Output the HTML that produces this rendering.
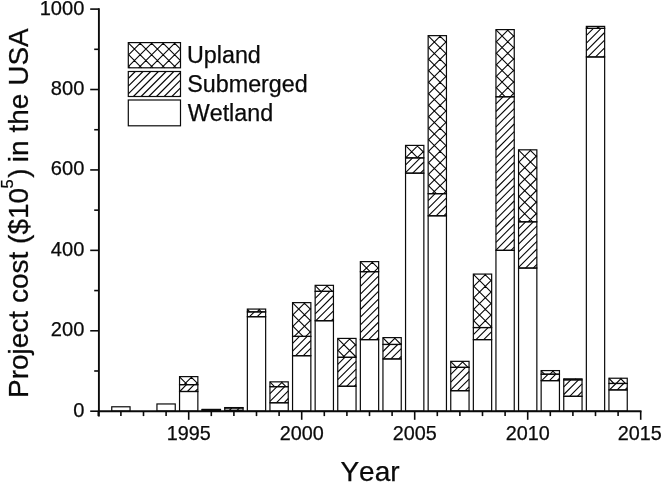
<!DOCTYPE html>
<html><head><meta charset="utf-8"><title>Project cost in the USA</title>
<style>
html,body{margin:0;padding:0;background:#fff;}
body{width:662px;height:482px;overflow:hidden;}
svg{display:block;}
text{font-family:"Liberation Sans",Arial,sans-serif;fill:#0a0a0a;font-kerning:none;stroke:#0a0a0a;stroke-width:0.25px;}
</style></head><body>
<svg width="662" height="482" viewBox="0 0 662 482">
<rect width="662" height="482" fill="#fff"/>

<path fill="none" stroke="#050505" stroke-width="1.08" d="M179.7,391.5L186.5,384.7M187.4,391.5L194.2,384.7M195.1,391.5L197.8,388.8M179.5,377.6L180.6,376.6M184.0,384.7L192.1,376.6M195.5,384.7L197.8,382.3M179.5,376.9L187.3,384.7M190.7,376.6L197.8,383.7M208.3,410.4L209.1,409.6M216.0,410.4L216.9,409.6M202.9,409.6L203.1,409.4M214.4,409.6L214.6,409.4M213.3,409.4L213.6,409.6M229.3,410.4L231.8,408.0M237.0,410.4L239.5,408.0M225.3,408.0L225.8,407.6M236.8,408.0L237.2,407.6M224.8,407.9L224.9,408.0M236.0,407.6L236.4,408.0M249.5,316.7L254.4,311.9M257.2,316.7L262.1,311.9M264.9,316.7L265.6,316.0M247.3,310.1L248.4,309.1M257.0,311.9L259.9,309.1M247.3,309.4L249.9,311.9M258.6,309.1L261.4,311.9M270.0,393.7L277.0,386.7M270.0,401.4L284.7,386.7M276.3,402.8L288.3,390.8M284.0,402.8L288.3,398.5M270.0,382.8L271.0,381.8M277.6,386.7L282.5,381.8M270.0,382.1L274.5,386.7M281.2,381.8L286.0,386.7M292.6,343.4L299.5,336.4M292.6,351.1L307.2,336.4M295.6,355.7L310.9,340.5M303.3,355.7L310.9,348.2M292.6,303.6L293.6,302.6M292.6,315.1L305.1,302.6M292.6,326.6L310.9,308.3M294.3,336.4L310.9,319.8M305.8,336.4L310.9,331.3M292.6,325.9L303.0,336.4M292.6,314.4L310.9,332.7M292.6,302.9L310.9,321.2M303.8,302.6L310.9,309.7M315.2,298.4L322.2,291.4M315.2,306.1L329.9,291.4M315.2,313.8L333.5,295.5M315.9,320.7L333.5,303.2M323.6,320.7L333.5,310.9M331.3,320.7L333.5,318.6M315.2,286.3L316.2,285.3M321.6,291.4L327.7,285.3M333.1,291.4L333.5,291.0M315.2,285.6L320.9,291.4M326.4,285.3L332.4,291.4M337.8,364.3L344.8,357.3M337.8,372.0L352.5,357.3M337.8,379.7L356.1,361.4M338.9,386.3L356.1,369.1M346.6,386.3L356.1,376.8M354.3,386.3L356.1,384.5M337.8,339.4L338.8,338.4M337.8,350.9L350.3,338.4M342.9,357.3L356.1,344.1M354.4,357.3L356.1,355.6M337.8,350.2L344.8,357.3M337.8,338.7L356.1,357.0M349.0,338.4L356.1,345.5M360.4,278.7L367.4,271.7M360.4,286.4L375.1,271.7M360.4,294.1L378.7,275.8M360.4,301.8L378.7,283.5M360.4,309.5L378.7,291.2M360.4,317.2L378.7,298.9M360.4,324.9L378.7,306.6M360.4,332.6L378.7,314.3M361.0,339.6L378.7,322.0M368.7,339.6L378.7,329.7M376.4,339.6L378.7,337.4M360.4,262.6L361.4,261.6M362.8,271.7L372.9,261.6M374.3,271.7L378.7,267.3M360.4,261.9L370.1,271.7M371.6,261.6L378.7,268.7M383.0,351.5L389.9,344.5M383.2,358.9L397.7,344.5M390.9,358.9L401.3,348.6M398.6,358.9L401.3,356.3M383.0,338.6L384.0,337.6M388.6,344.5L395.5,337.6M400.1,344.5L401.3,343.3M383.0,337.9L389.5,344.5M394.2,337.6L401.0,344.5M405.6,164.9L412.6,157.9M405.6,172.6L420.3,157.9M412.7,173.2L423.9,162.0M420.4,173.2L423.9,169.7M405.6,146.4L406.6,145.4M405.6,157.9L418.1,145.4M417.1,157.9L423.9,151.1M405.6,157.2L406.2,157.9M405.6,145.7L417.7,157.9M416.8,145.4L423.9,152.5M428.2,200.7L435.1,193.7M428.2,208.4L442.9,193.7M428.4,215.8L446.5,197.8M436.1,215.8L446.5,205.5M443.8,215.8L446.5,213.2M428.2,36.6L429.2,35.6M428.2,48.1L440.7,35.6M428.2,59.6L446.5,41.3M428.2,71.1L446.5,52.8M428.2,82.6L446.5,64.3M428.2,94.1L446.5,75.8M428.2,105.6L446.5,87.3M428.2,117.1L446.5,98.8M428.2,128.6L446.5,110.3M428.2,140.1L446.5,121.8M428.2,151.6L446.5,133.3M428.2,163.1L446.5,144.8M428.2,174.6L446.5,156.3M428.2,186.1L446.5,167.8M432.1,193.7L446.5,179.3M443.6,193.7L446.5,190.8M428.2,185.4L436.4,193.7M428.2,173.9L446.5,192.2M428.2,162.4L446.5,180.7M428.2,150.9L446.5,169.2M428.2,139.4L446.5,157.7M428.2,127.9L446.5,146.2M428.2,116.4L446.5,134.7M428.2,104.9L446.5,123.2M428.2,93.4L446.5,111.7M428.2,81.9L446.5,100.2M428.2,70.4L446.5,88.7M428.2,58.9L446.5,77.2M428.2,47.4L446.5,65.7M428.2,35.9L446.5,54.2M439.4,35.6L446.5,42.7M450.8,374.4L457.8,367.4M450.8,382.1L465.5,367.4M450.8,389.8L469.1,371.5M457.5,390.7L469.1,379.2M465.2,390.7L469.1,386.9M450.8,362.3L451.8,361.3M457.2,367.4L463.2,361.3M468.7,367.4L469.1,367.0M450.8,361.6L456.5,367.4M462.0,361.3L468.0,367.4M473.4,334.6L480.4,327.6M476.0,339.6L488.1,327.6M483.7,339.6L491.7,331.7M491.4,339.6L491.7,339.4M473.4,275.1L474.4,274.1M473.4,286.6L485.9,274.1M473.4,298.1L491.7,279.8M473.4,309.6L491.7,291.3M473.4,321.1L491.7,302.8M478.4,327.6L491.7,314.3M489.9,327.6L491.7,325.8M473.4,320.4L480.5,327.6M473.4,308.9L491.7,327.2M473.4,297.4L491.7,315.7M473.4,285.9L491.7,304.2M473.4,274.4L491.7,292.7M484.6,274.1L491.7,281.2M496.0,103.8L503.0,96.8M496.0,111.5L510.7,96.8M496.0,119.2L514.2,100.9M496.0,126.9L514.2,108.6M496.0,134.6L514.2,116.3M496.0,142.3L514.2,124.0M496.0,150.0L514.2,131.7M496.0,157.7L514.2,139.4M496.0,165.4L514.2,147.1M496.0,173.1L514.2,154.8M496.0,180.8L514.2,162.5M496.0,188.5L514.2,170.2M496.0,196.2L514.2,177.9M496.0,203.9L514.2,185.6M496.0,211.6L514.2,193.3M496.0,219.3L514.2,201.0M496.0,227.0L514.2,208.7M496.0,234.7L514.2,216.4M496.0,242.4L514.2,224.1M496.0,250.1L514.2,231.8M503.3,250.4L514.2,239.5M511.0,250.4L514.2,247.2M496.0,30.6L496.9,29.6M496.0,42.1L508.4,29.6M496.0,53.6L514.2,35.3M496.0,65.1L514.2,46.8M496.0,76.6L514.2,58.3M496.0,88.1L514.2,69.8M498.8,96.8L514.2,81.3M510.3,96.8L514.2,92.8M496.0,87.4L505.3,96.8M496.0,75.9L514.2,94.2M496.0,64.4L514.2,82.7M496.0,52.9L514.2,71.2M496.0,41.4L514.2,59.7M496.0,29.9L514.2,48.2M507.2,29.6L514.2,36.7M518.6,228.8L525.6,221.8M518.6,236.5L533.3,221.8M518.6,244.2L536.9,225.9M518.6,251.9L536.9,233.6M518.6,259.6L536.9,241.3M518.6,267.3L536.9,249.0M525.5,268.1L536.9,256.7M533.2,268.1L536.9,264.4M518.6,150.8L519.5,149.8M518.6,162.3L531.0,149.8M518.6,173.8L536.9,155.5M518.6,185.3L536.9,167.0M518.6,196.8L536.9,178.5M518.6,208.3L536.9,190.0M518.6,219.8L536.9,201.5M528.1,221.8L536.9,213.0M518.6,219.1L521.2,221.8M518.6,207.6L532.7,221.8M518.6,196.1L536.9,214.4M518.6,184.6L536.9,202.9M518.6,173.1L536.9,191.4M518.6,161.6L536.9,179.9M518.6,150.1L536.9,168.4M529.8,149.8L536.9,156.9M541.7,380.6L548.2,374.2M549.4,380.6L555.9,374.2M557.1,380.6L559.4,378.3M541.1,371.6L542.1,370.6M550.0,374.2L553.6,370.6M541.1,370.9L544.5,374.2M552.3,370.6L556.0,374.2M563.8,386.8L570.8,379.8M563.8,394.5L578.5,379.8M569.7,396.3L582.0,383.9M577.4,396.3L582.0,391.6M563.8,379.8L564.8,378.8M575.2,379.8L576.2,378.8M563.8,379.1L564.5,379.8M575.0,378.8L576.0,379.8M586.4,35.4L593.4,28.4M586.4,43.1L601.1,28.4M586.4,50.8L604.6,32.5M587.9,56.9L604.6,40.2M595.6,56.9L604.6,47.9M603.3,56.9L604.6,55.6M586.4,27.4L587.3,26.4M596.8,28.4L598.8,26.4M586.4,26.7L588.1,28.4M597.6,26.4L599.6,28.4M609.5,389.9L616.0,383.5M617.2,389.9L623.7,383.5M624.9,389.9L627.2,387.6M609.0,379.2L610.0,378.2M616.2,383.5L621.5,378.2M609.0,378.5L613.9,383.5M620.2,378.2L625.4,383.5M128.3,43.6L129.3,42.6M128.3,55.1L140.8,42.6M128.3,66.6L152.3,42.6M138.6,67.8L163.8,42.6M150.1,67.8L175.3,42.6M161.6,67.8L180.5,48.9M173.1,67.8L180.5,60.4M128.3,65.9L130.2,67.8M128.3,54.4L141.7,67.8M128.3,42.9L153.2,67.8M139.5,42.6L164.7,67.8M151.0,42.6L176.2,67.8M162.5,42.6L180.5,60.6M174.0,42.6L180.5,49.1M128.3,78.5L135.3,71.5M128.3,86.2L143.0,71.5M128.3,93.9L150.7,71.5M133.4,96.5L158.4,71.5M141.1,96.5L166.1,71.5M148.8,96.5L173.8,71.5M156.5,96.5L180.5,72.5M164.2,96.5L180.5,80.2M171.9,96.5L180.5,87.9M179.6,96.5L180.5,95.6"/>
<g stroke="#0a0a0a" stroke-width="1.2" fill="none">
<rect x="111.75" y="406.78" width="18.30" height="4.42"/>
<rect x="156.95" y="403.96" width="18.30" height="7.24"/>
<rect x="179.55" y="391.50" width="18.30" height="19.70"/>
<rect x="179.55" y="384.66" width="18.30" height="6.84"/>
<rect x="179.55" y="376.62" width="18.30" height="8.04"/>
<rect x="202.15" y="410.40" width="18.30" height="0.80"/>
<rect x="202.15" y="409.59" width="18.30" height="0.80"/>
<rect x="202.15" y="409.39" width="18.30" height="0.20"/>
<rect x="224.75" y="410.40" width="18.30" height="0.80"/>
<rect x="224.75" y="407.98" width="18.30" height="2.41"/>
<rect x="224.75" y="407.58" width="18.30" height="0.40"/>
<rect x="247.35" y="316.71" width="18.30" height="94.49"/>
<rect x="247.35" y="311.88" width="18.30" height="4.83"/>
<rect x="247.35" y="309.07" width="18.30" height="2.81"/>
<rect x="269.95" y="402.76" width="18.30" height="8.44"/>
<rect x="269.95" y="386.67" width="18.30" height="16.08"/>
<rect x="269.95" y="381.85" width="18.30" height="4.83"/>
<rect x="292.55" y="355.71" width="18.30" height="55.49"/>
<rect x="292.55" y="336.41" width="18.30" height="19.30"/>
<rect x="292.55" y="302.63" width="18.30" height="33.78"/>
<rect x="315.15" y="320.73" width="18.30" height="90.47"/>
<rect x="315.15" y="291.37" width="18.30" height="29.35"/>
<rect x="315.15" y="285.34" width="18.30" height="6.03"/>
<rect x="337.75" y="386.27" width="18.30" height="24.93"/>
<rect x="337.75" y="357.32" width="18.30" height="28.95"/>
<rect x="337.75" y="338.42" width="18.30" height="18.90"/>
<rect x="360.35" y="339.63" width="18.30" height="71.57"/>
<rect x="360.35" y="271.67" width="18.30" height="67.95"/>
<rect x="360.35" y="261.62" width="18.30" height="10.05"/>
<rect x="382.95" y="358.93" width="18.30" height="52.27"/>
<rect x="382.95" y="344.45" width="18.30" height="14.48"/>
<rect x="382.95" y="337.62" width="18.30" height="6.84"/>
<rect x="405.55" y="173.16" width="18.30" height="238.04"/>
<rect x="405.55" y="157.88" width="18.30" height="15.28"/>
<rect x="405.55" y="145.41" width="18.30" height="12.47"/>
<rect x="428.15" y="215.78" width="18.30" height="195.42"/>
<rect x="428.15" y="193.66" width="18.30" height="22.12"/>
<rect x="428.15" y="35.64" width="18.30" height="158.03"/>
<rect x="450.75" y="390.69" width="18.30" height="20.51"/>
<rect x="450.75" y="367.37" width="18.30" height="23.32"/>
<rect x="450.75" y="361.34" width="18.30" height="6.03"/>
<rect x="473.35" y="339.63" width="18.30" height="71.57"/>
<rect x="473.35" y="327.56" width="18.30" height="12.06"/>
<rect x="473.35" y="274.08" width="18.30" height="53.48"/>
<rect x="495.95" y="250.36" width="18.30" height="160.84"/>
<rect x="495.95" y="96.76" width="18.30" height="153.60"/>
<rect x="495.95" y="29.61" width="18.30" height="67.15"/>
<rect x="518.55" y="268.05" width="18.30" height="143.15"/>
<rect x="518.55" y="221.81" width="18.30" height="46.24"/>
<rect x="518.55" y="149.83" width="18.30" height="71.98"/>
<rect x="541.15" y="380.64" width="18.30" height="30.56"/>
<rect x="541.15" y="374.21" width="18.30" height="6.43"/>
<rect x="541.15" y="370.59" width="18.30" height="3.62"/>
<rect x="563.75" y="396.32" width="18.30" height="14.88"/>
<rect x="563.75" y="379.84" width="18.30" height="16.49"/>
<rect x="563.75" y="378.83" width="18.30" height="1.01"/>
<rect x="586.35" y="56.95" width="18.30" height="354.25"/>
<rect x="586.35" y="28.40" width="18.30" height="28.55"/>
<rect x="586.35" y="26.39" width="18.30" height="2.01"/>
<rect x="608.95" y="389.89" width="18.30" height="21.31"/>
<rect x="608.95" y="383.46" width="18.30" height="6.43"/>
<rect x="608.95" y="378.23" width="18.30" height="5.23"/>
<rect x="128.3" y="42.6" width="52.2" height="25.2"/>
<rect x="128.3" y="71.5" width="52.2" height="25.0"/>
<rect x="128.3" y="100.0" width="52.2" height="25.8"/>
</g>
<g stroke="#0a0a0a" stroke-width="1.9" fill="none">
<path d="M98.9,8.2 V416.5"/>
<path d="M97.9,411.2 H641.5"/>
</g>
<g stroke="#0a0a0a" stroke-width="1.6" fill="none">
<path d="M90.2,411.20 H98.9"/>
<path d="M94.2,370.99 H98.9"/>
<path d="M90.2,330.78 H98.9"/>
<path d="M94.2,290.57 H98.9"/>
<path d="M90.2,250.36 H98.9"/>
<path d="M94.2,210.15 H98.9"/>
<path d="M90.2,169.94 H98.9"/>
<path d="M94.2,129.73 H98.9"/>
<path d="M90.2,89.52 H98.9"/>
<path d="M94.2,49.31 H98.9"/>
<path d="M90.2,9.10 H98.9"/>
<path d="M98.30,411.2 V416.1"/>
<path d="M120.90,411.2 V416.1"/>
<path d="M143.50,411.2 V416.1"/>
<path d="M166.10,411.2 V416.1"/>
<path d="M188.70,411.2 V419.8"/>
<path d="M211.30,411.2 V416.1"/>
<path d="M233.90,411.2 V416.1"/>
<path d="M256.50,411.2 V416.1"/>
<path d="M279.10,411.2 V416.1"/>
<path d="M301.70,411.2 V419.8"/>
<path d="M324.30,411.2 V416.1"/>
<path d="M346.90,411.2 V416.1"/>
<path d="M369.50,411.2 V416.1"/>
<path d="M392.10,411.2 V416.1"/>
<path d="M414.70,411.2 V419.8"/>
<path d="M437.30,411.2 V416.1"/>
<path d="M459.90,411.2 V416.1"/>
<path d="M482.50,411.2 V416.1"/>
<path d="M505.10,411.2 V416.1"/>
<path d="M527.70,411.2 V419.8"/>
<path d="M550.30,411.2 V416.1"/>
<path d="M572.90,411.2 V416.1"/>
<path d="M595.50,411.2 V416.1"/>
<path d="M618.10,411.2 V416.1"/>
<path d="M640.70,411.2 V419.8"/>
</g>
<g font-size="19.8px">
<text x="84.4" y="416.6" text-anchor="end" font-size="20.1px">0</text>
<text x="84.4" y="336.2" text-anchor="end" font-size="20.1px">200</text>
<text x="84.4" y="255.8" text-anchor="end" font-size="20.1px">400</text>
<text x="84.4" y="175.3" text-anchor="end" font-size="20.1px">600</text>
<text x="84.4" y="94.9" text-anchor="end" font-size="20.1px">800</text>
<text x="84.4" y="14.5" text-anchor="end" font-size="20.1px">1000</text>
<text x="188.7" y="440.3" text-anchor="middle">1995</text>
<text x="301.7" y="440.3" text-anchor="middle">2000</text>
<text x="414.7" y="440.3" text-anchor="middle">2005</text>
<text x="527.7" y="440.3" text-anchor="middle">2010</text>
<text x="639.7" y="440.3" text-anchor="middle">2015</text>
</g>
<g font-size="23.3px">
<text x="187.0" y="62.5">Upland</text>
<text x="187.3" y="91.6">Submerged</text>
<text x="187.7" y="120.5">Wetland</text>
</g>
<text x="370" y="481.3" font-size="28px" text-anchor="middle">Year</text>
<g transform="translate(28,398.0) rotate(-90)" font-size="28px">
<text x="0" y="0">Project cost ($10<tspan x="209.55" y="-15" font-size="16.5px">5</tspan><tspan x="220.2" y="0">)</tspan> <tspan x="235.7">in</tspan> <tspan x="265.5">the USA</tspan></text>
</g>
</svg></body></html>
